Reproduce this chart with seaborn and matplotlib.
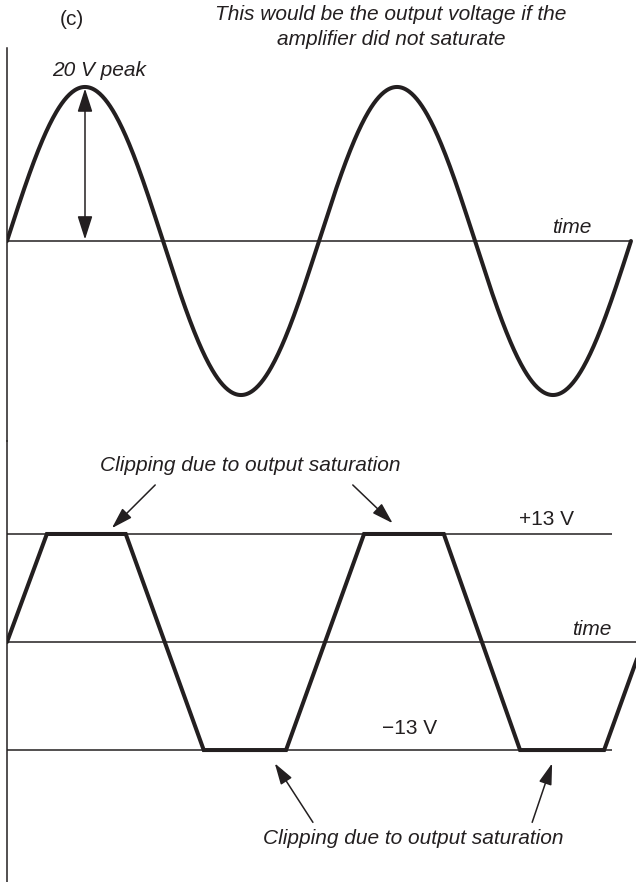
import numpy as np
import pandas as pd
import matplotlib
matplotlib.use("Agg")
import matplotlib.pyplot as plt
import seaborn as sns

# ---- data -------------------------------------------------------------
# Time axis in electrical degrees (two full cycles of the input)
peak_volts = 20.0            # peak of the ideal (unsaturated) output
ideal_t = np.linspace(0, 720, 721)
ideal_v = peak_volts * np.sin(np.radians(ideal_t))

# Saturated output: breakpoints of the clipped waveform
clip_t = [0, 46, 137, 227, 322, 412, 504, 592, 689, 734]
clip_v = [0, 13, 13, -13, -13, 13, 13, -13, -13, 0]

sat_level = 13.0             # output saturation voltage (±)

title_lines = ["This would be the output voltage if the",
               "amplifier did not saturate"]

# ---- style ------------------------------------------------------------
sns.set_style("white")
plt.rcParams["font.family"] = ["Liberation Sans", "DejaVu Sans"]

INK = "#231f20"
THICK = 2.9
THIN = 1.1
FS = 15

fig = plt.figure(figsize=(6.36, 8.82), dpi=100)
ax_top = fig.add_axes([7 / 636, 0.5, 629 / 636, (441 - 48) / 882])
ax_bot = fig.add_axes([7 / 636, 0.0, 629 / 636, 0.5])

for ax in (ax_top, ax_bot):
    ax.set_xlim(0, 725.8)
    for side in ("top", "right", "bottom"):
        ax.spines[side].set_visible(False)
    ax.spines["left"].set_color(INK)
    ax.spines["left"].set_linewidth(THIN)
    ax.set_xticks([])
    ax.set_yticks([])
    ax.patch.set_alpha(0)

ax_top.set_ylim(-25.97, 25.06)
ax_bot.set_ylim(-28.88, 24.19)

# ---- top: ideal sine --------------------------------------------------
ax_top.hlines(0, 0, 720, color=INK, lw=THIN)
sns.lineplot(x=ideal_t, y=ideal_v, ax=ax_top, color=INK, lw=THICK,
             sort=False, estimator=None)
ax_top.set_xlabel("")
ax_top.set_ylabel("")

ax_top.annotate("", xy=(90, peak_volts - 0.2), xytext=(90, 0.2),
                arrowprops=dict(arrowstyle="<|-|>,head_length=0.72,head_width=0.23",
                                mutation_scale=20, color=INK, lw=THIN,
                                shrinkA=0, shrinkB=0))
ax_top.text(106.7, 22.2, f"{peak_volts:.0f} V peak", fontsize=FS, style="italic",
            color=INK, ha="center", va="center")
ax_top.text(652, 1.7, "time", fontsize=FS, style="italic", color=INK,
            ha="center", va="center")
ax_top.text(75, 28.7, "(c)", fontsize=FS, color=INK, ha="center", va="center")
for line, yv in zip(title_lines, (29.35, 26.1)):
    ax_top.text(443, yv, line, fontsize=FS, style="italic", color=INK,
                ha="center", va="center")

# ---- bottom: clipped output -------------------------------------------
ax_bot.hlines(sat_level, 0, 698, color=INK, lw=THIN)
ax_bot.hlines(-sat_level, 0, 698, color=INK, lw=THIN)
ax_bot.hlines(0, 0, 726, color=INK, lw=THIN)
sns.lineplot(x=clip_t, y=clip_v, ax=ax_bot, color=INK, lw=THICK,
             sort=False, estimator=None)
ax_bot.lines[-1].set_solid_joinstyle("miter")
ax_bot.set_xlabel("")
ax_bot.set_ylabel("")

ax_bot.text(622, 14.8, f"+{sat_level:.0f} V", fontsize=FS, color=INK,
            ha="center", va="center")
ax_bot.text(465, -10.35, f"\u2212{sat_level:.0f} V", fontsize=FS, color=INK,
            ha="center", va="center")
ax_bot.text(675, 1.56, "time", fontsize=FS, style="italic", color=INK,
            ha="center", va="center")

arrow_kw = dict(arrowstyle="-|>,head_length=0.65,head_width=0.2",
                mutation_scale=20, color=INK, lw=THIN, shrinkA=0, shrinkB=0)
ax_bot.text(280.4, 21.3, "Clipping due to output saturation", fontsize=FS,
            style="italic", color=INK, ha="center", va="center")
ax_bot.annotate("", xy=(121, 13.7), xytext=(171, 18.9), arrowprops=arrow_kw)
ax_bot.annotate("", xy=(445, 14.3), xytext=(399, 18.9), arrowprops=arrow_kw)

ax_bot.text(468.5, -23.6, "Clipping due to output saturation", fontsize=FS,
            style="italic", color=INK, ha="center", va="center")
ax_bot.annotate("", xy=(309, -14.6), xytext=(353, -21.7), arrowprops=arrow_kw)
ax_bot.annotate("", xy=(629, -14.6), xytext=(606, -21.7), arrowprops=arrow_kw)

fig.savefig("out.png", dpi=100, facecolor="white")
